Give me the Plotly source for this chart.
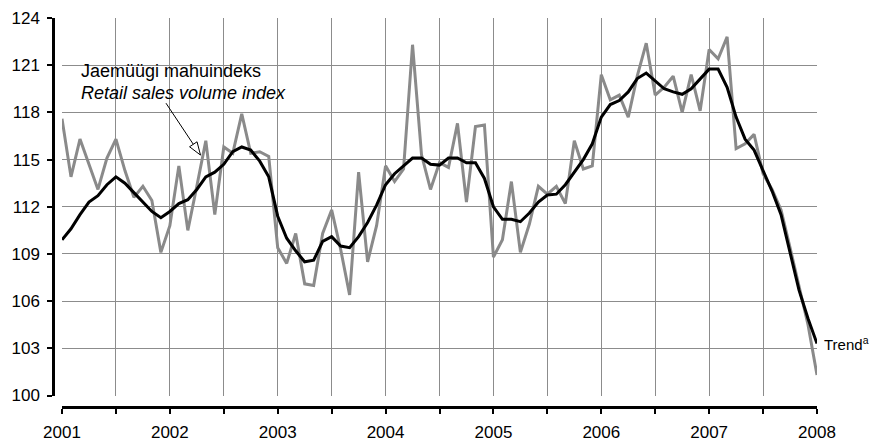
import math
import plotly.graph_objects as go

# Monthly data, January 2001 .. January 2008
start_year = 2001
index_values = [
    117.6, 113.9, 116.3, 114.7, 113.1, 115.1, 116.3, 114.3, 112.6, 113.3, 112.4, 109.1,  # 2001
    110.8, 114.6, 110.5, 113.3, 116.2, 111.5, 115.8, 115.4, 117.9, 115.4, 115.5, 115.2,  # 2002
    109.4, 108.4, 110.3, 107.1, 107.0, 110.3, 111.8, 109.3, 106.4, 114.2, 108.5, 110.8,  # 2003
    114.6, 113.6, 114.4, 122.3, 115.3, 113.1, 114.8, 114.5, 117.3, 112.3, 117.1, 117.2,  # 2004
    108.8, 109.9, 113.6, 109.1, 110.9, 113.3, 112.8, 113.3, 112.2, 116.2, 114.4, 114.6,  # 2005
    120.4, 118.8, 119.1, 117.7, 120.3, 122.4, 119.1, 119.6, 120.3, 118.0, 120.4, 118.1,  # 2006
    122.0, 121.4, 122.8, 115.7, 116.0, 116.6, 114.1, 113.1, 111.8, 109.4, 107.0, 104.5,  # 2007
    101.3,                                                                                # 2008
]
trend_values = [
    109.9, 110.6, 111.5, 112.3, 112.7, 113.4, 113.9, 113.5, 112.9, 112.3, 111.7, 111.3,
    111.7, 112.2, 112.45, 113.1, 113.9, 114.2, 114.7, 115.5, 115.8, 115.6, 114.9, 113.9,
    111.4, 110.0, 109.2, 108.5, 108.6, 109.8, 110.1, 109.5, 109.4, 110.1, 111.0, 112.1,
    113.4, 114.1, 114.6, 115.1, 115.1, 114.7, 114.65, 115.1, 115.1, 114.8, 114.8, 113.8,
    112.0, 111.2, 111.2, 111.05, 111.6, 112.3, 112.75, 112.8, 113.4, 114.2, 115.0, 116.0,
    117.7, 118.5, 118.75, 119.3, 120.15, 120.5, 120.0, 119.5, 119.3, 119.15, 119.5, 120.15,
    120.75, 120.75, 119.6, 117.7, 116.3, 115.6, 114.3, 113.0, 111.5, 109.0, 106.7, 104.9,
    103.3,
]
x_months = [start_year + i / 12 for i in range(len(index_values))]

year_labels = ["2001", "2002", "2003", "2004", "2005", "2006", "2007", "2008"]
year_vals = [2001 + k for k in range(len(year_labels))]
half_year_vals = [2001.5 + k for k in range(7)]
y_tickvals = [100, 103, 106, 109, 112, 115, 118, 121, 124]

label_et = "Jaemüügi mahuindeks"
label_en = "Retail sales volume index"
label_trend = "Trend<sup>a</sup>"

FONT = "Arial, 'Liberation Sans', sans-serif"
GRID = "#8c8c8c"
OFF = 8  # page body margin
W, H = 878 - OFF, 441 - OFF
# target page-pixel geometry
yaxis_line_px = 53
plot_left_px, plot_right_px = 62, 817
plot_top_px, plot_bottom_px = 17.6, 396
xaxis_line_px = 407.5

L = yaxis_line_px - OFF
R = W - (plot_right_px - OFF)
T = plot_top_px - OFF
B = H - (xaxis_line_px - OFF)
pw, ph = W - L - R, H - T - B

fig = go.Figure()
fig.add_trace(go.Scatter(x=x_months, y=index_values, mode="lines",
                         line=dict(color="#8a8a8a", width=3), showlegend=False))
fig.add_trace(go.Scatter(x=x_months, y=trend_values, mode="lines",
                         line=dict(color="#000000", width=3), showlegend=False))

# helpers: page pixel -> data (for the pointer arrow / labels only)
def px2x(px):
    return 2001 + (px - plot_left_px) / ((plot_right_px - plot_left_px) / 7)

def py2y(py):
    return 100 + (plot_bottom_px - py) / ((plot_bottom_px - plot_top_px) / 24)

# arrow line
ax0, ay0 = 166, 103
tipx, tipy = 200.5, 155
fig.add_shape(type="line", x0=px2x(ax0), y0=py2y(ay0), x1=px2x(tipx - 5), y1=py2y(tipy - 7.5),
              line=dict(color="black", width=1))
# open arrowhead
dx, dy = tipx - ax0, tipy - ay0
ln = math.hypot(dx, dy)
ux, uy = dx / ln, dy / ln
bx, by = tipx - 13 * ux, tipy - 13 * uy
c1 = (bx - 4.5 * uy, by + 4.5 * ux)
c2 = (bx + 4.5 * uy, by - 4.5 * ux)
path = "M {},{} L {},{} L {},{} Z".format(px2x(tipx), py2y(tipy), px2x(c1[0]), py2y(c1[1]),
                                          px2x(c2[0]), py2y(c2[1]))
fig.add_shape(type="path", path=path, fillcolor="white", line=dict(color="black", width=1))

fig.add_annotation(x=px2x(79), y=py2y(71), text=label_et, showarrow=False,
                   xanchor="left", yanchor="middle", font=dict(size=18, color="black", family=FONT))
fig.add_annotation(x=px2x(79), y=py2y(93), text="<i>" + label_en + "</i>", showarrow=False,
                   xanchor="left", yanchor="middle", font=dict(size=18, color="black", family=FONT))
fig.add_annotation(x=x_months[-1], y=trend_values[-1], text=label_trend, showarrow=False,
                   xanchor="left", yanchor="middle", xshift=5,
                   font=dict(size=15, color="black", family=FONT))

fig.update_layout(
    width=W, height=H,
    margin=dict(l=L, r=R, t=T, b=B, autoexpand=False),
    paper_bgcolor="white", plot_bgcolor="white",
    font=dict(family=FONT, size=17, color="black"),
    xaxis=dict(range=[2001, 2008], domain=[(plot_left_px - yaxis_line_px) / pw, 1],
               tickmode="array", tickvals=year_vals, ticktext=year_labels,
               showgrid=True, gridcolor=GRID, gridwidth=1,
               minor=dict(tickmode="array", tickvals=half_year_vals, ticks="outside",
                          ticklen=5, tickwidth=1.5, tickcolor="black",
                          showgrid=True, gridcolor=GRID, gridwidth=1),
               showline=True, linecolor="black", linewidth=3,
               ticks="outside", ticklen=5, tickwidth=1.5, tickcolor="black",
               anchor="free", position=0, zeroline=False, automargin=False,
               ticklabelstandoff=4,
               tickfont=dict(size=17, family=FONT)),
    yaxis=dict(range=[100, 124], domain=[(xaxis_line_px - plot_bottom_px) / ph, 1],
               tickmode="array", tickvals=y_tickvals,
               showgrid=True, gridcolor=GRID, gridwidth=1,
               showline=True, linecolor="black", linewidth=2.5,
               ticks="outside", ticklen=5, tickwidth=1.5, tickcolor="black",
               anchor="free", position=0, zeroline=False, automargin=False,
               ticklabelstandoff=4,
               tickfont=dict(size=17, family=FONT)),
)

fig.write_html("out.html")
